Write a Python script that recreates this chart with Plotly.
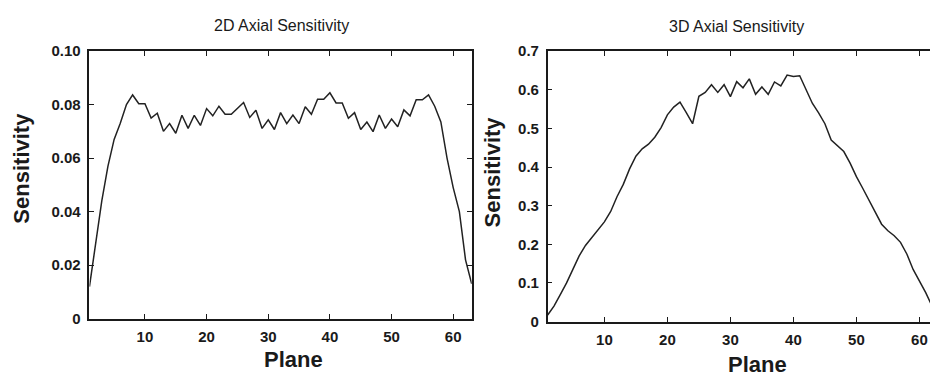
import plotly.graph_objects as go

planes = list(range(1, 64))

sens_2d = [0.012, 0.029, 0.044, 0.057, 0.067, 0.073, 0.080, 0.0836, 0.0803, 0.0803,
           0.075, 0.0768, 0.070, 0.0729, 0.0693, 0.076, 0.0711, 0.076, 0.0722, 0.0785,
           0.0758, 0.0794, 0.0764, 0.0764, 0.0786, 0.0808, 0.0752, 0.0779, 0.0711, 0.0743,
           0.0707, 0.0770, 0.0729, 0.0761, 0.0729, 0.0792, 0.0764, 0.0820, 0.0820, 0.0844,
           0.0806, 0.0806, 0.0749, 0.0770, 0.0707, 0.0735, 0.0699, 0.0761, 0.0711, 0.0746,
           0.0717, 0.0780, 0.0758, 0.0818, 0.0818, 0.0836, 0.0794, 0.0735, 0.060, 0.049,
           0.040, 0.022, 0.013]

sens_3d = [0.017, 0.040, 0.070, 0.100, 0.135, 0.170, 0.197, 0.217, 0.238, 0.258,
           0.285, 0.323, 0.355, 0.395, 0.428, 0.447, 0.459, 0.477, 0.502, 0.535,
           0.555, 0.568, 0.541, 0.512, 0.583, 0.593, 0.613, 0.593, 0.613, 0.582,
           0.621, 0.605, 0.628, 0.588, 0.607, 0.588, 0.620, 0.610, 0.638, 0.634,
           0.636, 0.600, 0.565, 0.540, 0.512, 0.470, 0.455, 0.440, 0.410, 0.375,
           0.345, 0.315, 0.281, 0.252, 0.235, 0.222, 0.205, 0.175, 0.135, 0.105,
           0.075, 0.040, 0.010]

x_ticks = [10, 20, 30, 40, 50, 60]
y2d_ticks = [0, 0.02, 0.04, 0.06, 0.08, 0.10]
y2d_labels = ["0", "0.02", "0.04", "0.06", "0.08", "0.10"]
y3d_ticks = [0, 0.1, 0.2, 0.3, 0.4, 0.5, 0.6, 0.7]
y3d_labels = ["0", "0.1", "0.2", "0.3", "0.4", "0.5", "0.6", "0.7"]

FONT = "Liberation Sans, Arial, sans-serif"
INK = "#1a1a1a"
tickfont = dict(family=FONT, size=15, color=INK, weight="bold")

fig = go.Figure()
fig.add_trace(go.Scatter(x=planes, y=sens_2d, mode="lines",
                         line=dict(color="#222222", width=1.5),
                         xaxis="x", yaxis="y", showlegend=False))
fig.add_trace(go.Scatter(x=planes, y=sens_3d, mode="lines",
                         line=dict(color="#222222", width=1.5),
                         xaxis="x2", yaxis="y2", showlegend=False))

common = dict(showline=True, linecolor=INK, linewidth=1.5, ticks="inside",
              ticklen=5, tickwidth=1, tickcolor=INK, showgrid=False,
              zeroline=False, tickfont=tickfont)

fig.update_layout(
    width=930, height=385,
    margin=dict(l=0, r=0, t=0, b=0),
    paper_bgcolor="white", plot_bgcolor="white",
    xaxis=dict(domain=[0.0962, 0.5072], range=[1, 63], tickvals=x_ticks,
               mirror="ticks", anchor="y", ticklabelstandoff=4, **common),
    yaxis=dict(domain=[0.1584, 0.8857], range=[0, 0.1], tickvals=y2d_ticks,
               ticktext=y2d_labels, mirror="ticks", anchor="x",
               ticklabelstandoff=4, **common),
    xaxis2=dict(domain=[0.5889, 1.0], range=[1, 61.68], tickvals=x_ticks,
                mirror="ticks", anchor="y2", ticklabelstandoff=4, **common),
    yaxis2=dict(domain=[0.1506, 0.8857], range=[0, 0.7], tickvals=y3d_ticks,
                ticktext=y3d_labels, mirror=False, anchor="x2",
                ticklabelstandoff=4, **common),
)

def note(text, px, py, font, angle=0):
    return dict(text=text, x=px / 930, y=1 - py / 385, xref="paper", yref="paper",
                xanchor="center", yanchor="middle", showarrow=False,
                textangle=angle, font=font)

title_font = dict(family=FONT, size=16, color=INK)
lab_font = dict(family=FONT, size=22, color=INK, weight="bold")
ann = [
    note("2D Axial Sensitivity", 281, 17, title_font),
    note("3D Axial Sensitivity", 736, 18, title_font),
    note("Sensitivity", 22, 167, lab_font, -90),
    note("Sensitivity", 492, 171, lab_font, -90),
    note("Plane", 293, 367, lab_font),
    note("Plane", 757, 372, lab_font),
]
fig.update_layout(annotations=ann)

fig.write_html("out.html")
